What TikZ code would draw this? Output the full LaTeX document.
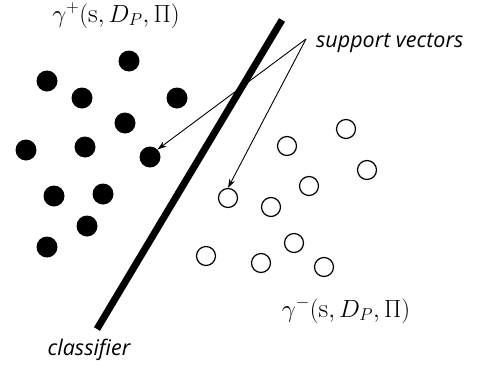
\documentclass[tikz,border=0pt]{standalone}
\usepackage{fontspec}
\newfontfamily\labfont{Open Sans}
\usetikzlibrary{arrows.meta}
\begin{document}
\begin{tikzpicture}[x=1pt,y=-1pt,
  posdot/.style={circle,fill=black,minimum size=21pt,inner sep=0pt},
  negdot/.style={circle,draw=black,line width=1.2pt,minimum size=19pt,inner sep=0pt},
  lab/.style={font=\labfont\itshape\fontsize{21.5}{25}\selectfont,inner sep=0pt},
  mlab/.style={font=\fontsize{27}{31}\selectfont,inner sep=0pt},
  arr/.style={line width=0.9pt,-{Stealth[length=9pt,width=6pt]}}]
\useasboundingbox (0,0) rectangle (478,367);
% positive points
\node[posdot] (p1) at (129,61) {};
\node[posdot] (p2) at (47,81) {};
\node[posdot] (p3) at (82,98) {};
\node[posdot] (p4) at (177,98) {};
\node[posdot] (p5) at (125,123) {};
\node[posdot] (p6) at (26,150) {};
\node[posdot] (p7) at (85,147) {};
\node[posdot] (p8) at (150,157) {};
\node[posdot] (p9) at (54,196) {};
\node[posdot] (p10) at (103,194) {};
\node[posdot] (p11) at (87,226) {};
\node[posdot] (p12) at (47,247) {};
% negative points
\node[negdot] (n1) at (346,129) {};
\node[negdot] (n2) at (287,146) {};
\node[negdot] (n3) at (367,170) {};
\node[negdot] (n4) at (309,186) {};
\node[negdot] (n5) at (228,198) {};
\node[negdot] (n6) at (271,207) {};
\node[negdot] (n7) at (294,243) {};
\node[negdot] (n8) at (206,256) {};
\node[negdot] (n9) at (261,263) {};
\node[negdot] (n10) at (324,267) {};
% classifier
\coordinate (ctop) at (282,20);
\coordinate (cbot) at (97,329);
\draw[line width=7pt] (ctop) -- (cbot);
% labels
\node[mlab,anchor=base] (gp) at (116,22) {$\gamma^{+}(\mathrm{s},D_P,\Pi)$};
\node[mlab,anchor=base] (gm) at (346,317) {$\gamma^{-}(\mathrm{s},D_P,\Pi)$};
\node[lab,anchor=base west] (sv) at (316,47) {support vectors};
\node[lab,anchor=base] (cl) at (89,355) {classifier};
\coordinate (apex) at (306,39);
\draw[arr] (apex) -- (p8.north east);
\draw[arr] (apex) -- (n5.north);
\end{tikzpicture}
\end{document}
